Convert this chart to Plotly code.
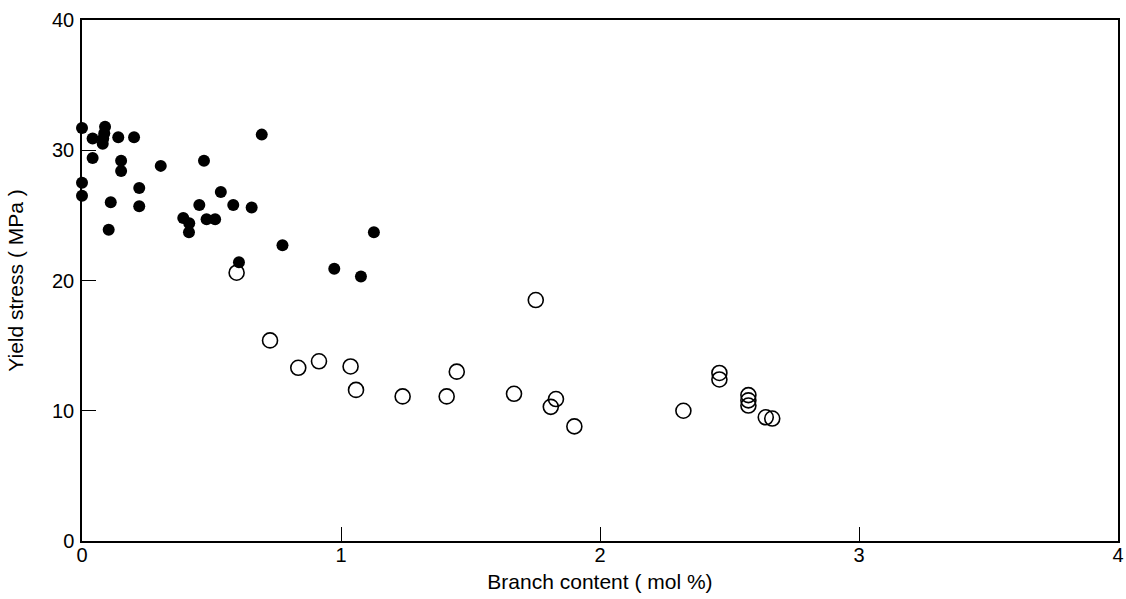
import plotly.graph_objects as go

# Filled circles (series 1)
filled_x = [0.0, 0.041, 0.041, 0.0, 0.0, 0.089, 0.086, 0.082, 0.080, 0.140, 0.201,
            0.151, 0.151, 0.111, 0.103, 0.221, 0.221, 0.304, 0.471, 0.694, 0.391,
            0.414, 0.413, 0.453, 0.536, 0.481, 0.514, 0.584, 0.655, 0.774, 0.606,
            0.974, 1.077, 1.127]
filled_y = [31.7, 30.9, 29.4, 27.5, 26.5, 31.8, 31.3, 30.9, 30.5, 31.0, 31.0,
            29.2, 28.4, 26.0, 23.9, 27.1, 25.7, 28.8, 29.2, 31.2, 24.8,
            24.4, 23.7, 25.8, 26.8, 24.7, 24.7, 25.8, 25.6, 22.7, 21.4,
            20.9, 20.3, 23.7]

# Open circles (series 2)
open_x = [0.597, 0.726, 0.835, 0.915, 1.037, 1.058, 1.238, 1.408, 1.447, 1.752,
          1.668, 1.830, 1.810, 1.901, 2.322, 2.461, 2.461, 2.573, 2.573, 2.573,
          2.640, 2.665]
open_y = [20.6, 15.4, 13.3, 13.8, 13.4, 11.6, 11.1, 11.1, 13.0, 18.5,
          11.3, 10.9, 10.3, 8.8, 10.0, 12.9, 12.4, 11.2, 10.8, 10.4,
          9.5, 9.4]

x_ticks = [0, 1, 2, 3, 4]
y_ticks = [0, 10, 20, 30, 40]

FONT = "Liberation Sans, Arial, sans-serif"

fig = go.Figure()
fig.add_trace(go.Scatter(
    x=open_x, y=open_y, mode="markers",
    marker=dict(symbol="circle-open", size=15, color="black", line=dict(width=1.6)),
    showlegend=False, cliponaxis=False))
fig.add_trace(go.Scatter(
    x=filled_x, y=filled_y, mode="markers",
    marker=dict(symbol="circle", size=12, color="black"),
    showlegend=False, cliponaxis=False))

axis_common = dict(
    showgrid=False, zeroline=False, showline=True, linecolor="black", linewidth=1.5,
    mirror=True, ticks="inside", ticklen=14, tickwidth=1.3, tickcolor="black",
    tickfont=dict(family=FONT, size=20, color="black"), automargin=False,
)

fig.update_xaxes(range=[0, 4], tickvals=x_ticks, ticktext=[str(v) for v in x_ticks],
                 ticklabelstandoff=-5,
                 title=dict(text="Branch content ( mol %)",
                            font=dict(family=FONT, size=21, color="black"),
                            standoff=10),
                 **axis_common)
fig.update_yaxes(range=[0, 40], tickvals=y_ticks, ticktext=[str(v) for v in y_ticks],
                 ticklabelstandoff=2,
                 title=dict(text="Yield stress ( MPa )",
                            font=dict(family=FONT, size=21, color="black"),
                            standoff=23),
                 **axis_common)

fig.update_layout(
    width=1126, height=599,
    margin=dict(l=82, r=8, t=20, b=58, pad=0),
    plot_bgcolor="white", paper_bgcolor="white",
)

# remove the default page margin so the figure sits at the window's origin
fig.write_html("out.html",
               config={"displayModeBar": False},
               post_script="document.body.style.margin='0';"
                           "document.body.style.overflow='hidden';")
